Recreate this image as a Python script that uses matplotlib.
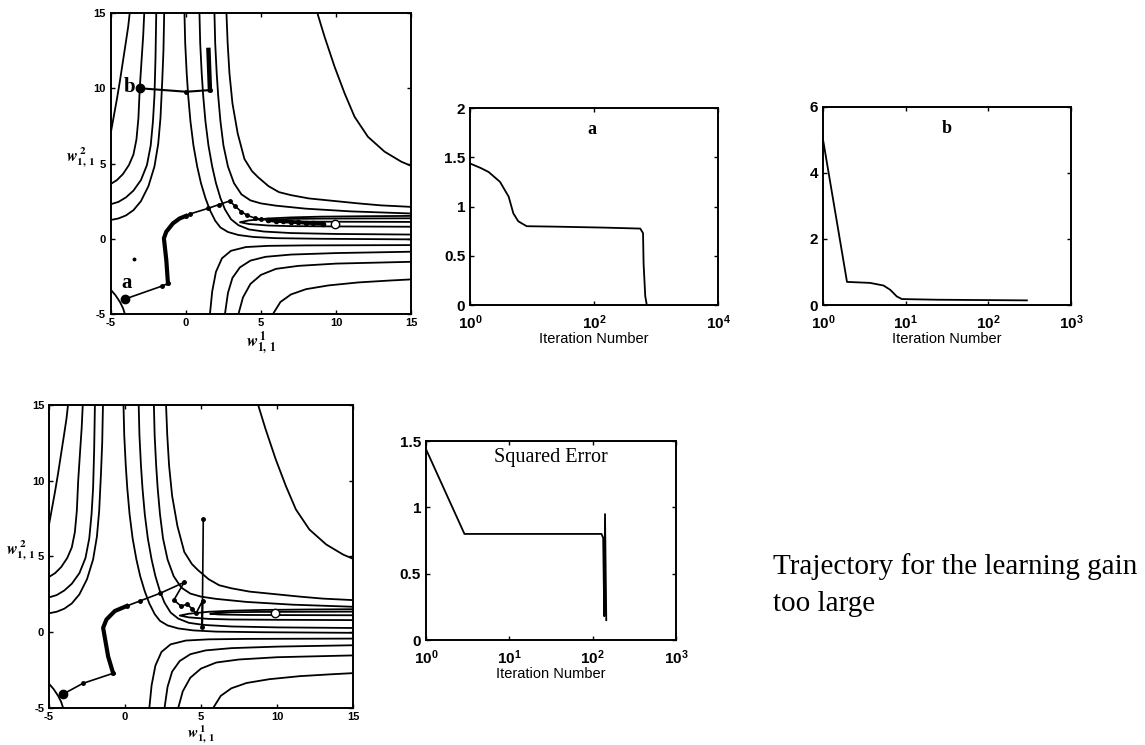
import matplotlib
matplotlib.use("Agg")
import matplotlib.pyplot as plt
from matplotlib.ticker import NullLocator

plt.rcParams['font.family'] = ['Liberation Sans', 'DejaVu Sans']
plt.rcParams['font.weight'] = 'bold'
plt.rcParams['mathtext.fontset'] = 'custom'
plt.rcParams['mathtext.rm'] = 'Liberation Sans:bold'
plt.rcParams['mathtext.it'] = 'Liberation Sans:bold'
plt.rcParams['mathtext.bf'] = 'Liberation Sans:bold'

# ---------------------------------------------------------------------------------
# Contour lines of the error surface (w1_11, w2_11)
# ----------------------------------------------------------------------------------
left_1 = [(-5, 7.1), (-4.8, 8.2), (-4.6, 9.3), (-4.4, 10.5), (-4.2, 11.8), (-4.0, 13.1), (-3.85, 14.1), (-3.75, 15)]
left_2 = [(-5, 3.65), (-4.6, 3.9), (-4.2, 4.3), (-3.8, 4.9), (-3.5, 5.6), (-3.3, 6.6), (-3.17, 8.0), (-3.08, 10), (-2.95, 12), (-2.85, 13.5), (-2.78, 15)]
left_3 = [(-5, 2.3), (-4.5, 2.45), (-4.0, 2.75), (-3.5, 3.2), (-3.0, 3.9), (-2.6, 4.9), (-2.35, 6.2), (-2.2, 7.8), (-2.1, 9.5), (-2.03, 12), (-1.98, 15)]
left_4 = [(-5, 1.25), (-4.5, 1.35), (-4.0, 1.55), (-3.5, 1.9), (-3.0, 2.5), (-2.5, 3.5), (-2.1, 4.8), (-1.85, 6.3), (-1.7, 8), (-1.58, 10.5), (-1.5, 12.5), (-1.45, 15)]
corner = [(-5, -3.4), (-4.7, -3.75), (-4.4, -4.2), (-4.2, -4.6), (-4.07, -5)]

right_1 = [(-0.1, 15), (-0.05, 13), (0.05, 11), (0.15, 9.5), (0.3, 7.8), (0.5, 6.2), (0.75, 4.8), (1.0, 3.7), (1.3, 2.7), (1.6, 1.9), (1.95, 1.2), (2.3, 0.75), (2.8, 0.45), (3.5, 0.25), (4.5, 0.12), (6, 0.04), (9, 0.0), (15, -0.04)]
right_2 = [(0.9, 15), (0.95, 13), (1.05, 11), (1.15, 9.5), (1.3, 7.8), (1.5, 6.2), (1.75, 4.8), (2.0, 3.7), (2.3, 2.7), (2.6, 1.95), (3.0, 1.3), (3.5, 0.9), (4.2, 0.62), (5.2, 0.48), (7, 0.38), (10, 0.32), (15, 0.28)]
right_3 = [(1.9, 15), (1.95, 13), (2.05, 11), (2.15, 9.5), (2.3, 7.8), (2.5, 6.2), (2.8, 4.8), (3.2, 3.7), (3.7, 2.95), (4.3, 2.55), (5, 2.35), (6, 2.2), (8, 2.0), (11, 1.82), (15, 1.68)]
right_4 = [(2.7, 15), (2.78, 13), (2.9, 11), (3.1, 9), (3.45, 7), (3.9, 5.3), (4.4, 4.5), (4.8, 4.1), (5.5, 3.5), (6.2, 3.1), (7, 2.9), (8.2, 2.68), (10, 2.5), (11.5, 2.35), (13, 2.22), (15, 2.12)]
big_curve = [(8.76, 15), (9.24, 13.43), (9.91, 11.43), (10.58, 9.66), (11.24, 8.11), (12.13, 6.78), (13.24, 5.79), (14.36, 5.12), (15, 4.85)]

lens_outer = [(15, 1.52), (12, 1.5), (9, 1.47), (7, 1.42), (5.5, 1.35), (4.2, 1.22), (3.6, 1.1), (4.2, 0.98), (5.5, 0.88), (7, 0.84), (10, 0.82), (15, 0.8)]
lens_inner = [(15, 1.36), (12, 1.35), (9, 1.34), (7, 1.32), (6.0, 1.28), (5.6, 1.22), (6.2, 1.17), (8, 1.14), (11, 1.13), (15, 1.12)]

down_1 = [(1.6, -5), (1.75, -3.5), (2.0, -2.2), (2.4, -1.3), (3.0, -0.8), (4, -0.55), (5.5, -0.47), (8, -0.44), (15, -0.42)]
down_2 = [(2.6, -5), (2.8, -3.6), (3.1, -2.6), (3.6, -1.9), (4.3, -1.45), (5.3, -1.2), (7, -1.05), (10, -0.95), (15, -0.86)]
down_3 = [(3.5, -5), (3.8, -3.9), (4.3, -3.0), (5.0, -2.4), (6, -2.0), (7.5, -1.8), (10, -1.65), (15, -1.53)]
down_4 = [(5.8, -5), (6.3, -4.2), (7, -3.7), (8, -3.35), (9.5, -3.1), (11.5, -2.9), (13.5, -2.78), (15, -2.7)]

contour_lines = [left_1, left_2, left_3, left_4, corner, right_1, right_2, right_3, right_4,
                 big_curve, lens_outer, lens_inner, down_1, down_2, down_3, down_4]

# ---------------------------------------------------------------------------------
# Trajectories
# ----------------------------------------------------------------------------------
traj_a_start = [(-4.05, -4.0), (-1.62, -3.15), (-1.2, -2.97)]
traj_a_thick = [(-1.2, -2.97), (-1.31, -1.41), (-1.47, 0.03), (-1.31, 0.47), (-0.87, 1.02), (-0.42, 1.35), (0.0, 1.52)]
traj_a_end = [(0.0, 1.52), (0.24, 1.64), (1.47, 2.02), (2.2, 2.27), (2.91, 2.51), (3.3, 2.15), (3.69, 1.8),
              (4.1, 1.55), (4.58, 1.38), (5.0, 1.3), (5.47, 1.24)]
traj_a_dense = [(5.47, 1.24), (6.0, 1.19), (6.5, 1.16), (7.0, 1.12), (7.5, 1.09), (8.0, 1.06), (8.5, 1.03), (9.13, 0.99)]
stray_dot = (-3.44, -1.37)

traj_b = [(-3.07, 10.0), (0.02, 9.77), (1.6, 9.88)]
traj_b_thick = [(1.6, 9.88), (1.5, 12.55)]

minimum_top = (9.93, 1.0)

traj_big_thin = [(-4.1, -4.1), (-2.78, -3.38), (-0.78, -2.71)]
traj_big_thick = [(-0.78, -2.71), (-1.11, -1.6), (-1.44, 0.29), (-1.22, 0.84), (-0.67, 1.4), (0.11, 1.73)]
traj_big_end = [(0.11, 1.73), (1.0, 2.07), (2.33, 2.58), (3.89, 3.29), (3.22, 2.13), (3.67, 1.73), (4.11, 1.84),
                (4.44, 1.51), (4.67, 1.24), (5.1, 2.07), (5.08, 0.36), (5.15, 7.45)]
minimum_bottom = (9.84, 1.3)

# ---------------------------------------------------------------------------------
# Squared error curves
# ----------------------------------------------------------------------------------
a_iter = [1, 1.5, 2, 3.05, 4.2, 5.0, 6.0, 8.2, 22, 142, 556, 617, 630, 670, 710]
a_err = [1.437, 1.39, 1.35, 1.25, 1.10, 0.93, 0.85, 0.80, 0.796, 0.786, 0.776, 0.73, 0.42, 0.09, 0.0]

b_iter = [1, 1.95, 3.7, 5.4, 6.5, 7.8, 9.0, 24, 292]
b_err = [5.01, 0.70, 0.67, 0.59, 0.46, 0.26, 0.18, 0.16, 0.14]

big_iter = [1, 2.9, 128, 134, 138, 141, 146]
big_err = [1.44, 0.80, 0.80, 0.77, 0.18, 0.95, 0.15]


def xs(pts):
    return [p[0] for p in pts]


def ys(pts):
    return [p[1] for p in pts]


def style_box(ax, size, pad):
    ax.tick_params(direction='in', top=True, right=True, length=3, width=1, labelsize=size)
    ax.tick_params(axis='x', pad=pad)
    for s in ax.spines.values():
        s.set_linewidth(1.4)


def draw_contours(ax, ylab_x, xlab_y, xlab_size):
    for line in contour_lines:
        ax.plot(xs(line), ys(line), color='black', lw=1.3, solid_capstyle='round')
    ax.set_xlim(-5, 15)
    ax.set_ylim(-5, 15)
    ax.set_xticks([-5, 0, 5, 10, 15])
    ax.set_yticks([-5, 0, 5, 10, 15])
    ax.set_xticklabels(['-5', '0', '5', '10', '15'])
    ax.set_yticklabels(['-5', '0', '5', '10', '15'])
    style_box(ax, 8, 3)
    ax.set_xlabel(r'$w^{\,1}_{1,\,1}$', math_fontfamily='stix', fontsize=xlab_size, va='top')
    ax.set_ylabel(r'$w^{\,2}_{1,\,1}$', math_fontfamily='stix', fontsize=11.5, rotation=0,
                  ha='center', va='center')
    ax.xaxis.set_label_coords(0.5, xlab_y)
    ax.yaxis.set_label_coords(ylab_x, 0.52)


def log_panel(ax, x, y, xmax, ymax, yticks, ylabels):
    ax.plot(x, y, color='black', lw=1.3)
    ax.set_xscale('log')
    ax.set_xlim(1, xmax)
    ax.set_ylim(0, ymax)
    ax.set_yticks(yticks)
    ax.set_yticklabels(ylabels)
    ax.xaxis.set_minor_locator(NullLocator())
    style_box(ax, 11, 6)
    ax.set_xlabel('Iteration Number', fontweight='normal', fontsize=10.5, labelpad=0)


fig = plt.figure(figsize=(11.45, 7.45), dpi=100)

# top left contour with trajectories a and b
ax1 = fig.add_axes([0.0969, 0.5785, 0.262, 0.404])
draw_contours(ax1, -0.1, -0.05, 12)
ax1.plot(xs(traj_a_start), ys(traj_a_start), color='black', lw=1.2, marker='o', ms=2.5)
ax1.plot(xs(traj_a_thick), ys(traj_a_thick), color='black', lw=3)
ax1.plot(xs(traj_a_end), ys(traj_a_end), color='black', lw=1.2, marker='o', ms=2.5)
ax1.plot(xs(traj_a_dense), ys(traj_a_dense), color='black', lw=2.6, marker='o', ms=3)
ax1.plot(traj_a_start[0][0], traj_a_start[0][1], 'o', color='black', ms=6)
ax1.plot(stray_dot[0], stray_dot[1], 'o', color='black', ms=1.8)
ax1.plot(xs(traj_b), ys(traj_b), color='black', lw=1.5, marker='o', ms=2.5)
ax1.plot(xs(traj_b_thick), ys(traj_b_thick), color='black', lw=3.2)
ax1.plot(traj_b[0][0], traj_b[0][1], 'o', color='black', ms=6)
ax1.plot(minimum_top[0], minimum_top[1], 'o', mfc='white', mec='black', ms=6, mew=1)
ax1.text(-3.95, -2.95, 'a', family='Liberation Serif', fontweight='bold', fontsize=15, ha='center', va='center')
ax1.text(-3.75, 10.1, 'b', family='Liberation Serif', fontweight='bold', fontsize=15, ha='center', va='center')

# top middle: error for trajectory a
ax2 = fig.add_axes([0.4105, 0.5906, 0.2166, 0.2644])
log_panel(ax2, a_iter, a_err, 1e4, 2, [0, 0.5, 1, 1.5, 2], ['0', '0.5', '1', '1.5', '2'])
ax2.set_xticks([1, 1e2, 1e4])
ax2.text(0.49, 0.89, 'a', transform=ax2.transAxes, family='Liberation Serif', fontweight='bold',
         fontsize=13, ha='center', va='center')

# top right: error for trajectory b
ax3 = fig.add_axes([0.7188, 0.5906, 0.2166, 0.2658])
log_panel(ax3, b_iter, b_err, 1e3, 6, [0, 2, 4, 6], ['0', '2', '4', '6'])
ax3.set_xticks([1, 1e1, 1e2, 1e3])
ax3.text(0.5, 0.89, 'b', transform=ax3.transAxes, family='Liberation Serif', fontweight='bold',
         fontsize=13, ha='center', va='center')

# bottom left: learning gain too large
ax4 = fig.add_axes([0.0428, 0.0497, 0.2655, 0.4067])
draw_contours(ax4, -0.095, -0.052, 11)
ax4.plot(xs(traj_big_thin), ys(traj_big_thin), color='black', lw=1.2, marker='o', ms=2.5)
ax4.plot(xs(traj_big_thick), ys(traj_big_thick), color='black', lw=3)
ax4.plot(xs(traj_big_end), ys(traj_big_end), color='black', lw=1.2, marker='o', ms=2.5)
ax4.plot(traj_big_thin[0][0], traj_big_thin[0][1], 'o', color='black', ms=6)
ax4.plot(minimum_bottom[0], minimum_bottom[1], 'o', mfc='white', mec='black', ms=6, mew=1)

# bottom middle: squared error
ax5 = fig.add_axes([0.372, 0.1409, 0.2183, 0.267])
log_panel(ax5, big_iter, big_err, 1e3, 1.5, [0, 0.5, 1, 1.5], ['0', '0.5', '1', '1.5'])
ax5.set_xticks([1, 1e1, 1e2, 1e3])
ax5.text(0.5, 0.92, 'Squared Error', transform=ax5.transAxes, family='Liberation Serif',
         fontweight='normal', fontsize=14.5, ha='center', va='center')

fig.text(0.675, 0.239, 'Trajectory for the learning gain', family='Liberation Serif',
         fontweight='normal', fontsize=21, ha='left', va='center')
fig.text(0.675, 0.189, 'too large', family='Liberation Serif',
         fontweight='normal', fontsize=21, ha='left', va='center')

fig.savefig('out.png', dpi=100)
